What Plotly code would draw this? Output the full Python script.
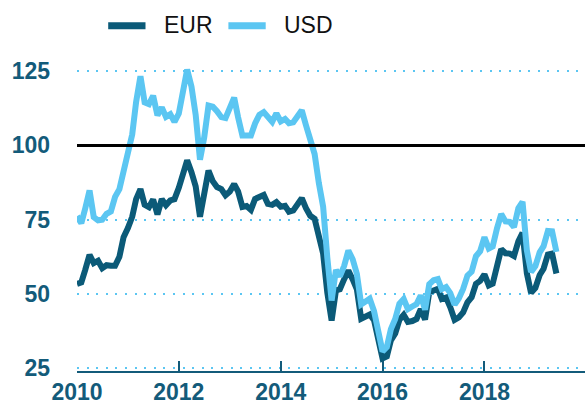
import pandas as pd
import plotly.graph_objects as go

start_month = "2010-01-01"
n_months = 114

usd = [76.2, 73.8, 78.8, 84.8, 75.9, 74.8, 75.0, 77.0, 77.8, 82.7, 85.3, 91.4,
       96.5, 103.7, 114.6, 123.3, 114.5, 113.9, 116.7, 110.1, 112.8, 109.6, 110.5, 107.9,
       110.7, 119.3, 125.5, 119.8, 110.3, 95.2, 102.6, 113.4, 113.0, 111.5, 109.5, 109.2,
       112.3, 116.1, 109.5, 103.3, 103.3, 103.3, 107.4, 110.3, 111.2, 109.5, 107.9, 110.8,
       108.1, 108.9, 107.5, 107.8, 109.5, 111.8, 106.8, 101.6, 97.1, 87.4, 79.4, 62.3,
       47.8, 58.1, 55.9, 59.5, 64.6, 61.7, 56.8, 46.5, 47.6, 48.4, 44.3, 38.0,
       30.7, 32.2, 38.2, 41.6, 46.7, 48.3, 44.9, 45.8, 46.6, 49.5, 44.7, 53.3,
       54.6, 55.0, 51.6, 52.3, 50.3, 46.4, 48.5, 51.7, 56.2, 57.5, 62.7, 64.4,
       69.1, 65.3, 66.0, 72.1, 76.9, 74.4, 74.3, 72.5, 78.9, 81.0, 64.7, 57.4,
       59.4, 64.0, 66.1, 71.2, 71.1, 64.2]

eur = [53.4, 53.9, 58.1, 63.2, 60.4, 61.2, 58.7, 59.7, 59.5, 59.5, 62.5, 69.1,
       72.2, 76.0, 81.9, 85.3, 80.0, 79.2, 81.8, 76.8, 81.9, 79.9, 81.5, 81.9,
       85.7, 90.1, 95.0, 91.0, 86.2, 76.0, 83.5, 91.5, 87.9, 86.0, 85.3, 83.2,
       84.5, 87.0, 84.5, 79.3, 79.6, 78.3, 82.0, 82.9, 83.3, 80.3, 80.0, 80.9,
       79.4, 79.7, 77.7, 78.1, 79.8, 82.2, 78.9, 76.3, 75.3, 69.0, 63.6, 50.5,
       41.1, 51.2, 51.6, 55.0, 57.9, 54.9, 51.6, 41.7, 42.4, 43.1, 41.2, 34.9,
       28.3, 29.0, 34.4, 36.7, 41.3, 43.0, 40.6, 40.9, 41.6, 44.9, 41.4, 50.6,
       51.4, 51.7, 48.3, 48.8, 45.5, 41.3, 42.1, 43.8, 47.2, 48.9, 53.4, 54.4,
       56.6, 52.9, 53.5, 58.7, 65.1, 63.7, 63.6, 62.8, 67.7, 70.6, 57.0, 50.4,
       52.0, 56.4, 58.5, 63.3, 63.6, 56.9]

y_ticks = [25, 50, 75, 100, 125]
series_names = ["EUR", "USD"]

DARK = "#0b5a78"
LIGHT = "#5bc6f2"
TICK = "#135b7a"

dates = pd.date_range(start_month, periods=n_months, freq="MS")

fig = go.Figure()
fig.add_trace(go.Scatter(x=dates, y=eur, mode="lines", name=series_names[0],
                         line=dict(color=DARK, width=6), showlegend=False))
fig.add_trace(go.Scatter(x=dates, y=usd, mode="lines", name=series_names[1],
                         line=dict(color=LIGHT, width=6), showlegend=False))

L, B, T = 77, 34, 50
W, H = 585, 405
pw, ph = W - L, H - T - B


def px(xp):
    return (xp - L) / pw


def py(yp):
    return (H - B - yp) / ph


# legend drawn manually
for i, (name, col, x0, x1, tx) in enumerate([
        (series_names[0], DARK, 108.2, 145.5, 161.5),
        (series_names[1], LIGHT, 228.4, 265.7, 281.8)]):
    fig.add_shape(type="line", xref="paper", yref="paper",
                  x0=px(x0), x1=px(x1), y0=py(25.7), y1=py(25.7),
                  line=dict(color=col, width=7))
    fig.add_annotation(xref="paper", yref="paper", x=px(tx), y=py(25.2),
                       xanchor="left", yanchor="middle", showarrow=False,
                       text=name, font=dict(family="Liberation Sans", size=23, color="#111111"))

fig.add_shape(type="line", xref="paper", yref="y", x0=0, x1=1, y0=100, y1=100,
              line=dict(color="black", width=3), layer="above")

fig.update_layout(
    width=W, height=H,
    margin=dict(l=L, r=0, t=T, b=B),
    paper_bgcolor="white", plot_bgcolor="white",
    showlegend=False,
    xaxis=dict(
        range=["2010-01-01", "2019-12-23"],
        tick0="2010-01-01", dtick="M24", tickformat="%Y",
        showgrid=False, zeroline=False,
        showline=True, linecolor=TICK, linewidth=1.5,
        ticks="inside", ticklen=10, tickwidth=1.5, tickcolor=TICK,
        tickfont=dict(family="Liberation Sans", size=23, color=TICK, weight="bold"),
    ),
    yaxis=dict(
        range=[24.09, 132.1],
        tickvals=y_ticks,
        showgrid=True, gridcolor=LIGHT, gridwidth=2, griddash="2px,7.6px",
        zeroline=False, showline=False, ticks="",
        ticklabelstandoff=26,
        tickfont=dict(family="Liberation Sans", size=23, color=TICK, weight="bold"),
    ),
)

fig.write_html("out.html", config={"displayModeBar": False},
               post_script="document.body.style.margin='0';")
